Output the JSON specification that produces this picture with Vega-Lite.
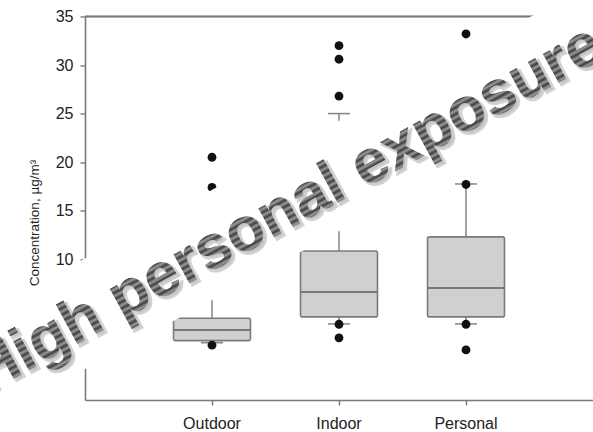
{
  "$schema": "https://vega.github.io/schema/vega-lite/v6.json",
  "width": 508,
  "height": 383.5,
  "autosize": {"type": "none"},
  "padding": {"left": 85, "top": 16.5, "right": 0, "bottom": 32},
  "background": "white",
  "config": {
    "view": {"stroke": null},
    "font": "Liberation Sans",
    "axis": {
      "domainColor": "#7a7a7a",
      "domainWidth": 1.6,
      "tickColor": "#7a7a7a",
      "tickWidth": 1.4,
      "tickSize": 5,
      "labelFont": "Liberation Sans",
      "labelColor": "#222222",
      "grid": false,
      "titleFont": "Liberation Sans",
      "titleColor": "#222222",
      "titleFontWeight": "normal"
    },
    "axisY": {"labelFontSize": 16, "labelPadding": 7, "titleFontSize": 13.5},
    "axisX": {"labelFontSize": 16, "labelAngle": 0, "labelPadding": 10}
  },
  "datasets": {
    "boxes": [
      {"site": "Outdoor", "low": 1.4, "q1": 1.62, "median": 2.71, "q3": 3.92, "high": 9.0},
      {"site": "Indoor", "low": 3.34, "q1": 4.06, "median": 6.63, "q3": 10.85, "high": 25.0},
      {"site": "Personal", "low": 3.34, "q1": 4.06, "median": 7.04, "q3": 12.3, "high": 17.75}
    ],
    "outliers": [
      {"site": "Outdoor", "value": 20.5},
      {"site": "Outdoor", "value": 17.4},
      {"site": "Outdoor", "value": 1.15},
      {"site": "Indoor", "value": 32.0},
      {"site": "Indoor", "value": 30.6},
      {"site": "Indoor", "value": 26.8},
      {"site": "Indoor", "value": 3.3},
      {"site": "Indoor", "value": 1.9},
      {"site": "Personal", "value": 33.2},
      {"site": "Personal", "value": 17.7},
      {"site": "Personal", "value": 3.3},
      {"site": "Personal", "value": 0.66}
    ],
    "banner": [
      {"pos": -1, "level": -2.73},
      {"pos": 4.6, "level": 37.03}
    ],
    "caption": [
      {"pos": 1.606, "level": 13.11, "text": "High personal exposure"}
    ]
  },
  "layer": [
    {
      "layer": [
        {
          "data": {"name": "boxes"},
          "mark": {"type": "rule", "color": "#7a7a7a", "strokeWidth": 1.6},
          "encoding": {
            "y": {
              "datum": 35,
              "type": "quantitative",
              "scale": {"domain": [-4.5, 35], "nice": false, "zero": false},
              "axis": {
                "values": [0, 5, 10, 15, 20, 25, 30, 35],
                "titleX": -47,
                "titleY": 206,
                "titleAlign": "center",
                "titleBaseline": "alphabetic",
                "titleAngle": -90
              },
              "title": "Concentration, µg/m³"
            }
          }
        },
        {
          "data": {"name": "boxes"},
          "mark": {"type": "rule", "color": "#858585", "strokeWidth": 1.5},
          "encoding": {
            "x": {"field": "site", "type": "nominal", "sort": ["Outdoor", "Indoor", "Personal"], "scale": {"paddingInner": 0, "paddingOuter": 0.5}, "title": null},
            "y": {"field": "high", "type": "quantitative", "title": "Concentration, µg/m³"},
            "y2": {"field": "q3"}
          }
        },
        {
          "data": {"name": "boxes"},
          "mark": {"type": "rule", "color": "#858585", "strokeWidth": 1.5},
          "encoding": {
            "x": {"field": "site", "type": "nominal", "sort": ["Outdoor", "Indoor", "Personal"], "title": null},
            "y": {"field": "low", "type": "quantitative", "title": "Concentration, µg/m³"},
            "y2": {"field": "q1"}
          }
        },
        {
          "data": {"name": "boxes"},
          "mark": {"type": "bar", "fill": "#d0d0d0", "stroke": "#7a7a7a", "strokeWidth": 1.6, "cornerRadius": 2, "width": {"band": 0.606}},
          "encoding": {
            "x": {"field": "site", "type": "nominal", "sort": ["Outdoor", "Indoor", "Personal"], "title": null},
            "y": {"field": "q1", "type": "quantitative", "title": "Concentration, µg/m³"},
            "y2": {"field": "q3"}
          }
        },
        {
          "data": {"name": "boxes"},
          "mark": {"type": "tick", "color": "#787878", "thickness": 2, "size": 76, "opacity": 1},
          "encoding": {
            "x": {"field": "site", "type": "nominal", "sort": ["Outdoor", "Indoor", "Personal"], "title": null},
            "y": {"field": "median", "type": "quantitative", "title": "Concentration, µg/m³"}
          }
        },
        {
          "data": {"name": "boxes"},
          "mark": {"type": "tick", "color": "#858585", "thickness": 1.5, "size": 22, "opacity": 1},
          "encoding": {
            "x": {"field": "site", "type": "nominal", "sort": ["Outdoor", "Indoor", "Personal"], "title": null},
            "y": {"field": "high", "type": "quantitative", "title": "Concentration, µg/m³"}
          }
        },
        {
          "data": {"name": "boxes"},
          "mark": {"type": "tick", "color": "#858585", "thickness": 1.5, "size": 22, "opacity": 1},
          "encoding": {
            "x": {"field": "site", "type": "nominal", "sort": ["Outdoor", "Indoor", "Personal"], "title": null},
            "y": {"field": "low", "type": "quantitative", "title": "Concentration, µg/m³"}
          }
        },
        {
          "data": {"name": "outliers"},
          "mark": {"type": "point", "filled": true, "color": "#111111", "size": 78, "opacity": 1},
          "encoding": {
            "x": {"field": "site", "type": "nominal", "sort": ["Outdoor", "Indoor", "Personal"], "title": null},
            "y": {"field": "value", "type": "quantitative", "title": "Concentration, µg/m³"}
          }
        }
      ]
    },
    {
      "layer": [
        {
          "data": {"name": "banner"},
          "mark": {"type": "line", "color": "white", "strokeWidth": 97, "strokeCap": "butt"},
          "encoding": {
            "x": {"field": "pos", "type": "quantitative", "scale": {"domain": [0, 4], "nice": false, "zero": false}, "axis": null},
            "y": {"field": "level", "type": "quantitative", "title": "Concentration, µg/m³"}
          }
        },
        {
          "data": {"name": "caption"},
          "mark": {"type": "text", "font": "Liberation Sans", "fontWeight": "bold", "fontSize": 62, "angle": -28.5, "align": "center", "baseline": "alphabetic", "fill": "#9a9a9a", "stroke": "#b5b5b5", "strokeWidth": 2.5, "opacity": 0.6, "dx": 9.5, "dy": 3.5},
          "encoding": {
            "x": {"field": "pos", "type": "quantitative"},
            "y": {"field": "level", "type": "quantitative", "title": "Concentration, µg/m³"},
            "text": {"field": "text"}
          }
        },
        {
          "data": {"name": "caption"},
          "mark": {
            "type": "text", "font": "Liberation Sans", "fontWeight": "bold", "fontSize": 62, "angle": -28.5, "align": "center", "baseline": "alphabetic", "dx": 8,
            "fill": {
              "gradient": "linear", "x1": 0, "y1": 0, "x2": 0, "y2": 1,
              "stops": [
                {"offset": 0, "color": "#3d3d3d"}, {"offset": 0.0417, "color": "#9a9a9a"},
                {"offset": 0.0833, "color": "#3d3d3d"}, {"offset": 0.125, "color": "#9a9a9a"},
                {"offset": 0.1667, "color": "#3d3d3d"}, {"offset": 0.2083, "color": "#9a9a9a"},
                {"offset": 0.25, "color": "#3d3d3d"}, {"offset": 0.2917, "color": "#9a9a9a"},
                {"offset": 0.3333, "color": "#3d3d3d"}, {"offset": 0.375, "color": "#9a9a9a"},
                {"offset": 0.4167, "color": "#3d3d3d"}, {"offset": 0.4583, "color": "#9a9a9a"},
                {"offset": 0.5, "color": "#3d3d3d"}, {"offset": 0.5417, "color": "#9a9a9a"},
                {"offset": 0.5833, "color": "#3d3d3d"}, {"offset": 0.625, "color": "#9a9a9a"},
                {"offset": 0.6667, "color": "#3d3d3d"}, {"offset": 0.7083, "color": "#9a9a9a"},
                {"offset": 0.75, "color": "#3d3d3d"}, {"offset": 0.7917, "color": "#9a9a9a"},
                {"offset": 0.8333, "color": "#3d3d3d"}, {"offset": 0.875, "color": "#9a9a9a"},
                {"offset": 0.9167, "color": "#3d3d3d"}, {"offset": 0.9583, "color": "#9a9a9a"},
                {"offset": 1, "color": "#3d3d3d"}
              ]
            }
          },
          "encoding": {
            "x": {"field": "pos", "type": "quantitative"},
            "y": {"field": "level", "type": "quantitative", "title": "Concentration, µg/m³"},
            "text": {"field": "text"}
          }
        }
      ]
    }
  ],
  "resolve": {"scale": {"x": "independent"}, "axis": {"x": "independent"}}
}
